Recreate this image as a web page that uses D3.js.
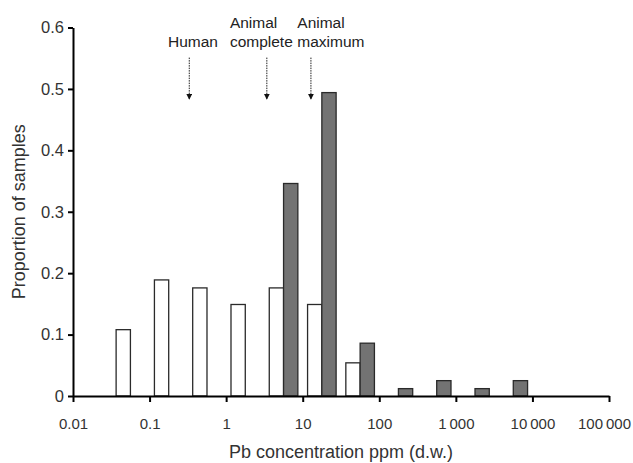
<!DOCTYPE html>
<html>
<head>
<meta charset="utf-8">
<script src="https://cdn.jsdelivr.net/npm/d3@7"></script>
<style>
  body { margin: 0; background: #fff; }
  text { font-family: "Liberation Sans", Arial, sans-serif; fill: #222; }
</style>
</head>
<body>
<div id="chart"></div>
<script>
'use strict';

// half-decade bins (lower edges), 0.01 .. 100 000
const binEdges = [0.01, 0.0316, 0.1, 0.316, 1, 3.16, 10, 31.6, 100, 316, 1000, 3162, 10000, 31623, 100000];
// proportion of samples per bin
const humanValues  = [0, 0.108, 0.189, 0.176, 0.149, 0.176, 0.149, 0.054, 0, 0, 0, 0, 0, 0];
const animalValues = [0, 0, 0, 0, 0, 0.346, 0.494, 0.086, 0.012, 0.025, 0.012, 0.025, 0, 0];

const xTicks = [0.01, 0.1, 1, 10, 100, 1000, 10000, 100000];
const xTickLabels = ['0.01', '0.1', '1', '10', '100', '1\u2009000', '10\u2009000', '100\u2009000'];
const yTicks = [0, 0.1, 0.2, 0.3, 0.4, 0.5, 0.6];

// reference values marked with arrows
const markNames = ['Human', 'Animal complete', 'Animal maximum'];
const markValues = [0.33, 3.4, 12.8];
const markLines = [['', 'Human'], ['Animal', 'complete'], ['Animal', 'maximum']];
const markLabelAt = [0.174, 1.12, 8.5];

const dims = {
  width: 633,
  height: 463,
  margin: { top: 27.5, right: 24, bottom: 67, left: 73 }
};
dims.ctrWidth = dims.width - dims.margin.left - dims.margin.right;
dims.ctrHeight = dims.height - dims.margin.top - dims.margin.bottom;

const svg = d3.select('#chart')
  .append('svg')
  .attr('width', dims.width)
  .attr('height', dims.height);

const chart_g = svg.append('g')
  .attr('transform', `translate(${dims.margin.left}, ${dims.margin.top})`);

const xScale = d3.scaleLog()
  .domain([0.01, 100000])
  .range([0, dims.ctrWidth]);

const yScale = d3.scaleLinear()
  .domain([0, 0.6])
  .range([dims.ctrHeight, 0]);

const bins = d3.range(binEdges.length - 1).map(i => ({
  lo: binEdges[i],
  hi: binEdges[i + 1],
  human: humanValues[i],
  animal: animalValues[i]
}));

const inner = d3.scaleBand()
  .domain(['human', 'animal'])
  .paddingInner(0)
  .paddingOuter(0.34);

const colors = { human: '#ffffff', animal: '#737373' };

// bars
const binG = chart_g.append('g')
  .selectAll('g')
  .data(bins)
  .join('g');

binG.selectAll('rect')
  .data(d => {
    const band = inner.copy().range([xScale(d.lo), xScale(d.hi)]);
    return ['human', 'animal']
      .filter(k => d[k] > 0)
      .map(k => ({ key: k, value: d[k], x: band(k), w: band.bandwidth() }));
  })
  .join('rect')
  .attr('x', d => d.x)
  .attr('y', d => yScale(d.value))
  .attr('width', d => d.w)
  .attr('height', d => yScale(0) - yScale(d.value))
  .attr('fill', d => colors[d.key])
  .attr('stroke', '#2a2a2a')
  .attr('stroke-width', 1.3);

// y axis
const yAxis = chart_g.append('g')
  .call(d3.axisLeft(yScale).tickValues(yTicks).tickSize(5).tickSizeOuter(0).tickFormat(d3.format('')));
yAxis.select('.domain').attr('stroke', '#000').attr('stroke-width', 2);
yAxis.selectAll('.tick line').attr('stroke', '#000').attr('stroke-width', 2);
yAxis.selectAll('.tick text')
  .attr('x', -9)
  .style('font-size', '16.5px')
  .style('fill', '#333');

// x axis
const xAxis = chart_g.append('g')
  .attr('transform', `translate(0, ${dims.ctrHeight})`)
  .call(d3.axisBottom(xScale).tickValues(xTicks).tickSize(6).tickSizeOuter(0)
    .tickFormat((d, i) => xTickLabels[i]));
xAxis.select('.domain').attr('stroke', '#000').attr('stroke-width', 2);
xAxis.selectAll('.tick line').attr('stroke', '#000').attr('stroke-width', 2);
xAxis.selectAll('.tick text')
  .attr('y', 22)
  .attr('dx', (d, i) => i === xTicks.length - 1 ? -5 : 0)
  .style('font-size', '15px')
  .style('fill', '#333');

// axis titles
chart_g.append('text')
  .attr('x', dims.ctrWidth / 2)
  .attr('y', dims.ctrHeight + 62)
  .attr('text-anchor', 'middle')
  .style('font-size', '18px')
  .style('fill', '#333')
  .text('Pb concentration ppm (d.w.)');

chart_g.append('text')
  .attr('transform', `translate(-48, ${dims.ctrHeight / 2}) rotate(-90)`)
  .attr('text-anchor', 'middle')
  .style('font-size', '18px')
  .style('fill', '#333')
  .text('Proportion of samples');

// arrow markers
svg.append('defs').append('marker')
  .attr('id', 'arrowhead')
  .attr('viewBox', '0 0 6 6')
  .attr('refX', 5)
  .attr('refY', 3)
  .attr('markerWidth', 6)
  .attr('markerHeight', 6)
  .attr('markerUnits', 'userSpaceOnUse')
  .attr('orient', 'auto')
  .append('path')
  .attr('d', 'M0,0 L6,3 L0,6 Z')
  .attr('fill', '#111');

const marks = markNames.map((name, i) => ({
  name: name, value: markValues[i], lines: markLines[i], labelAt: markLabelAt[i]
}));

chart_g.append('g')
  .selectAll('line')
  .data(marks)
  .join('line')
  .attr('x1', d => xScale(d.value))
  .attr('x2', d => xScale(d.value))
  .attr('y1', yScale(0.551))
  .attr('y2', yScale(0.484))
  .attr('stroke', '#222')
  .attr('stroke-width', 1)
  .attr('stroke-dasharray', '1.5,1')
  .attr('marker-end', 'url(#arrowhead)');

const labelG = chart_g.append('g')
  .selectAll('text')
  .data(marks)
  .join('text')
  .attr('x', d => xScale(d.labelAt))
  .attr('y', yScale(0.6))
  .style('font-size', '15.5px')
  .style('fill', '#222');

labelG.selectAll('tspan')
  .data(d => d.lines.map((t, j) => ({ t, j, x: xScale(d.labelAt) })))
  .join('tspan')
  .attr('x', d => d.x)
  .attr('dy', d => d.j === 0 ? 0 : 19)
  .text(d => d.t);
</script>
</body>
</html>
